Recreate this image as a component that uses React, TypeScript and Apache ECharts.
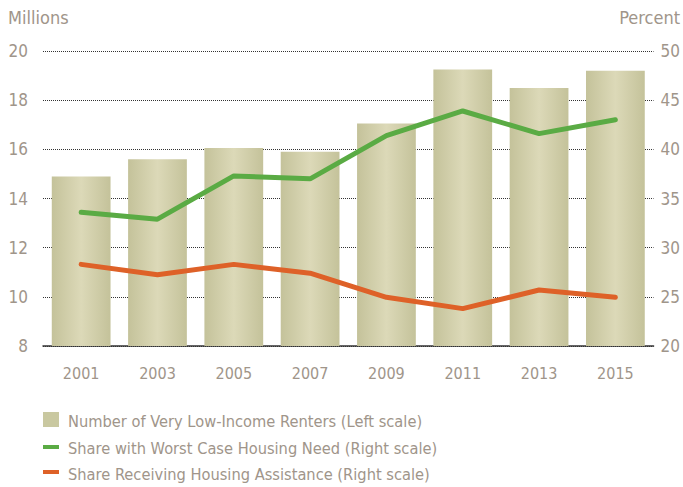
import React, { useEffect, useRef } from "react";
import * as echarts from "echarts";

const years = ["2001", "2003", "2005", "2007", "2009", "2011", "2013", "2015"];
const renters = [14.9, 15.6, 16.05, 15.9, 17.05, 19.25, 18.5, 19.2];
const worstCase = [33.6, 32.9, 37.3, 37.0, 41.4, 43.9, 41.6, 43.0];
const assistance = [28.3, 27.25, 28.3, 27.4, 24.95, 23.8, 25.7, 24.95];

const legendItems = [
  "Number of Very Low-Income Renters (Left scale)",
  "Share with Worst Case Housing Need (Right scale)",
  "Share Receiving Housing Assistance (Right scale)",
];

const FONT = "'Liberation Sans Narrow', 'DejaVu Sans Condensed', sans-serif";
const TXT = "#a0958a";
const BAR = "#c9c8a0";
const GREEN = "#5aab44";
const ORANGE = "#de6128";

export default function App() {
  const ref = useRef<HTMLDivElement>(null);
  useEffect(() => {
    if (!ref.current) return;
    const chart = echarts.init(ref.current, null, { renderer: "svg" });
    const barGrad = new echarts.graphic.LinearGradient(0, 0, 1, 0, [
      { offset: 0, color: "#c4c29a" },
      { offset: 0.5, color: "#dcd9b8" },
      { offset: 1, color: "#c4c29a" },
    ]);
    chart.setOption({
      animation: false,
      textStyle: { fontFamily: FONT },
      grid: { left: 43, right: 25, top: 51, bottom: 141 },
      xAxis: {
        type: "category",
        data: years,
        axisTick: { show: false },
        axisLine: { lineStyle: { color: "#333", width: 1.5 } },
        axisLabel: { color: TXT, fontSize: 16, margin: 19, fontFamily: FONT },
      },
      yAxis: [
        {
          type: "value",
          min: 8,
          max: 20,
          interval: 2,
          axisLabel: { color: TXT, fontSize: 17, margin: 15, fontFamily: FONT },
          axisLine: { show: false },
          axisTick: { show: false },
          splitLine: { lineStyle: { color: "#333", type: [1, 1], width: 1 } },
        },
        {
          type: "value",
          min: 20,
          max: 50,
          interval: 5,
          position: "right",
          axisLabel: { color: TXT, fontSize: 17, margin: 7, fontFamily: FONT },
          axisLine: { show: false },
          axisTick: { show: false },
          splitLine: { show: false },
        },
      ],
      series: [
        {
          name: legendItems[0],
          type: "bar",
          data: renters,
          barCategoryGap: "23%",
          itemStyle: { color: barGrad },
          yAxisIndex: 0,
        },
        {
          name: legendItems[1],
          type: "line",
          data: worstCase,
          yAxisIndex: 1,
          symbol: "none",
          lineStyle: { color: GREEN, width: 5, cap: "round" },
          itemStyle: { color: GREEN },
        },
        {
          name: legendItems[2],
          type: "line",
          data: assistance,
          yAxisIndex: 1,
          symbol: "none",
          lineStyle: { color: ORANGE, width: 5, cap: "round" },
          itemStyle: { color: ORANGE },
        },
      ],
      graphic: [
        {
          type: "text",
          left: 8,
          top: 8,
          style: { text: "Millions", fill: TXT, fontSize: 18, fontFamily: FONT },
        },
        {
          type: "text",
          right: 3,
          top: 8,
          style: { text: "Percent", fill: TXT, fontSize: 18, fontFamily: FONT },
        },
        { type: "rect", shape: { x: 43, y: 412, width: 16, height: 15 }, style: { fill: BAR } },
        { type: "rect", shape: { x: 43, y: 445, width: 16, height: 4 }, style: { fill: GREEN } },
        { type: "rect", shape: { x: 43, y: 470, width: 16, height: 4 }, style: { fill: ORANGE } },
        {
          type: "text",
          x: 68,
          y: 421,
          style: { text: legendItems[0], fill: TXT, fontSize: 16.3, fontFamily: FONT, verticalAlign: "middle" },
        },
        {
          type: "text",
          x: 68,
          y: 448,
          style: { text: legendItems[1], fill: TXT, fontSize: 16.3, fontFamily: FONT, verticalAlign: "middle" },
        },
        {
          type: "text",
          x: 68,
          y: 474,
          style: { text: legendItems[2], fill: TXT, fontSize: 16.3, fontFamily: FONT, verticalAlign: "middle" },
        },
      ],
    });
    return () => chart.dispose();
  }, []);
  return <div ref={ref} style={{ width: 683, height: 487, position: "absolute", left: 0, top: 0 }} />;
}
